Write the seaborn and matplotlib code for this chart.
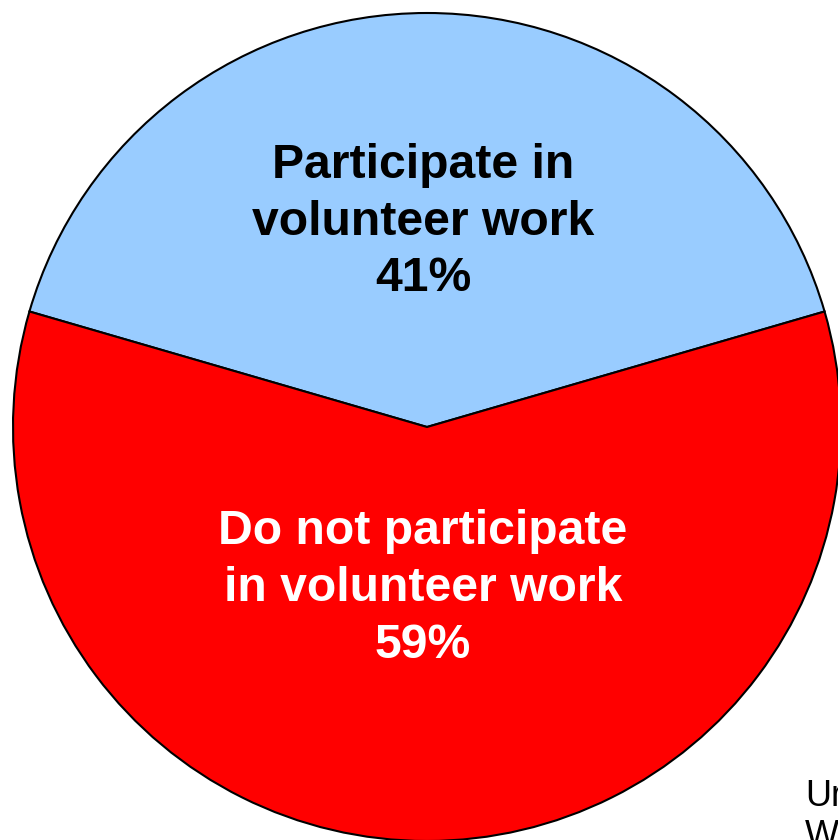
import matplotlib
matplotlib.use("Agg")
import matplotlib.pyplot as plt
import numpy as np
import seaborn as sns

# data
labels = ["Participate in\nvolunteer work", "Do not participate\nin volunteer work"]
shares = [41, 59]
colors = ["#99ccff", "#ff0000"]
text_colors = ["black", "white"]
label_radius = [0.495, 0.39]
note = "Ur\nW"

sns.set_theme(style="white")
plt.rcParams["font.family"] = ["Liberation Sans", "DejaVu Sans"]

fig = plt.figure(figsize=(8.38, 8.40), dpi=100)
ax = fig.add_axes([0, 0, 1, 1])

cx, cy, r = 427, 413, 414
start = 90 - shares[0] / 100 * 180
wedges, _ = ax.pie(shares, colors=colors, startangle=start, counterclock=True,
                   center=(cx, cy), radius=r,
                   wedgeprops=dict(edgecolor="black", linewidth=1.5))

for w, lab, s, tc, lr in zip(wedges, labels, shares, text_colors, label_radius):
    mid = np.deg2rad((w.theta1 + w.theta2) / 2)
    ax.text(cx + lr * r * np.cos(mid) - 4, cy + lr * r * np.sin(mid),
            f"{lab}\n{s}%", ha="center", va="center", color=tc,
            fontsize=34.7, fontweight="bold", linespacing=1.33)

# source note, cut off at the lower right edge as in the original
ax.text(805, 61, note, ha="left", va="top", fontsize=26,
        color="black", linespacing=1.2)

ax.set_xlim(0, 838)
ax.set_ylim(0, 840)
ax.set_aspect("equal")
ax.axis("off")

fig.savefig("out.png", dpi=100)
